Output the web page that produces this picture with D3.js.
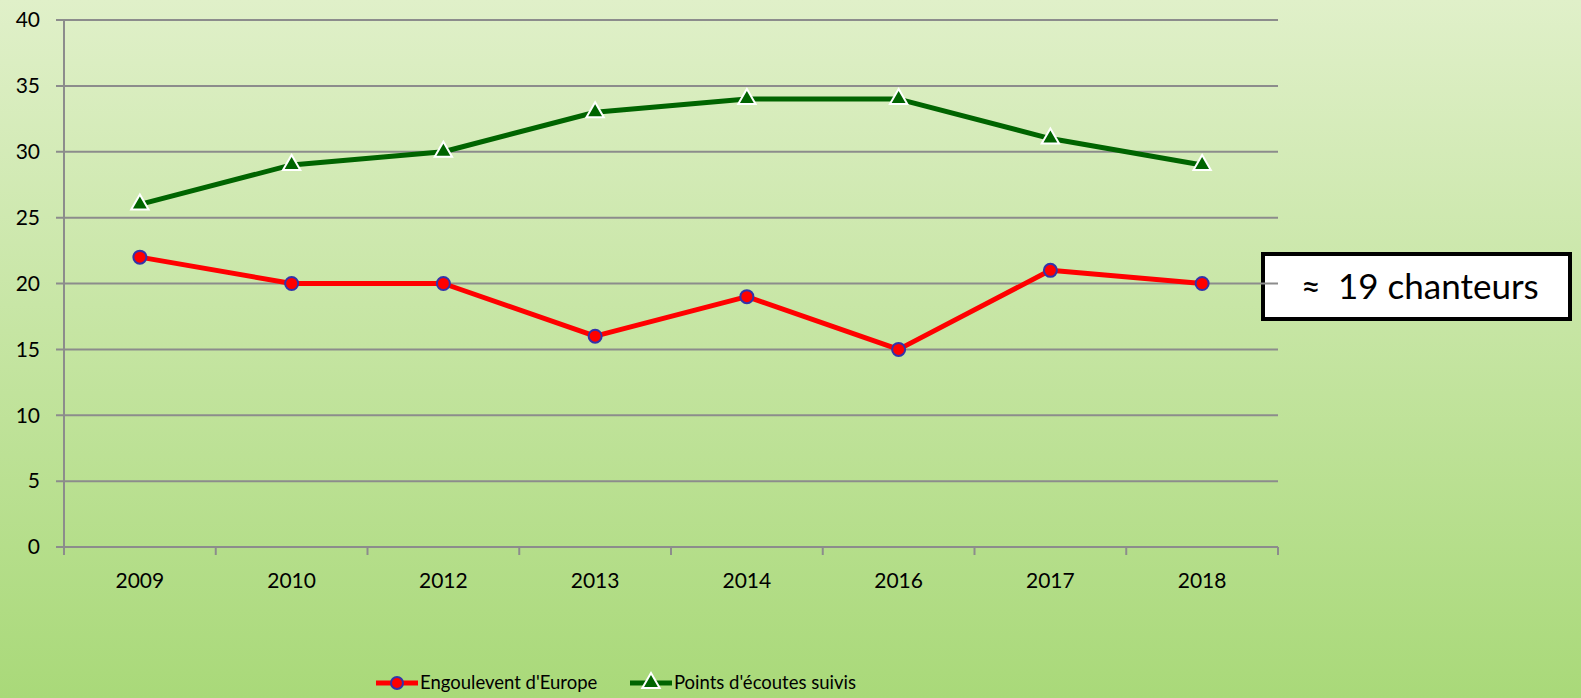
<!DOCTYPE html>
<html><head><meta charset="utf-8">
<script src="https://cdn.jsdelivr.net/npm/d3@7"></script>
<style>html,body{margin:0;padding:0;overflow:hidden;}svg{display:block;}</style>
</head><body>
<svg id="c" width="1581" height="698"></svg>
<script>
const categories = ["2009","2010","2012","2013","2014","2016","2017","2018"];
const engoulevent = [22,20,20,16,19,15,21,20];
const pointsEcoute = [26,29,30,33,34,34,31,29];
const yTicks = [0,5,10,15,20,25,30,35,40];
const seriesNames = ["Engoulevent d'Europe","Points d'écoutes suivis"];
const annotationSymbol = "≈";
const annotationText = "19 chanteurs";

const W=1581,H=698;
const font = "Lato, 'Noto Sans', sans-serif";
const svg = d3.select("#c");
const defs = svg.append("defs");
const g = defs.append("linearGradient").attr("id","bg").attr("x1",0).attr("y1",0).attr("x2",0).attr("y2",1);
g.append("stop").attr("offset","0%").attr("stop-color","#e0f0c9");
g.append("stop").attr("offset","100%").attr("stop-color","#a9d979");
svg.append("rect").attr("width",W).attr("height",H).attr("fill","url(#bg)");

const pL=64,pR=1278,pT=20,pB=547;
const x = d3.scaleBand().domain(categories).range([pL,pR]);
const y = d3.scaleLinear().domain([0,40]).range([pB,pT]);
const cx = d => x(d)+x.bandwidth()/2;

// annotation box (under gridline)
svg.append("rect").attr("x",1263).attr("y",254).attr("width",307).attr("height",65)
  .attr("fill","#fff").attr("stroke","#000").attr("stroke-width",4);

// gridlines
svg.append("g").selectAll("line").data(yTicks).join("line")
  .attr("x1",pL-8).attr("x2",pR).attr("y1",d=>y(d)).attr("y2",d=>y(d))
  .attr("stroke","#8c8c8c").attr("stroke-width",2);

// y axis line
svg.append("line").attr("x1",pL).attr("x2",pL).attr("y1",pT).attr("y2",pB+8)
  .attr("stroke","#8c8c8c").attr("stroke-width",2);
// x category ticks
const xb = categories.map(c=>x(c)).concat([pR]);
svg.append("g").selectAll("line").data(xb.slice(1)).join("line")
  .attr("x1",d=>d).attr("x2",d=>d).attr("y1",pB).attr("y2",pB+8)
  .attr("stroke","#8c8c8c").attr("stroke-width",2);

// y labels
svg.append("g").selectAll("text").data(yTicks).join("text")
  .attr("x",40).attr("y",d=>y(d)).attr("dy","0.35em").attr("text-anchor","end")
  .attr("font-family",font).attr("font-size",21).attr("fill","#000").text(d=>d);
// x labels
svg.append("g").selectAll("text").data(categories).join("text")
  .attr("x",d=>cx(d)).attr("y",588).attr("text-anchor","middle")
  .attr("font-family",font).attr("font-size",21).attr("fill","#000").text(d=>d);

const line = d3.line().x((d,i)=>cx(categories[i])).y(d=>y(d));
svg.append("path").datum(pointsEcoute).attr("d",line).attr("fill","none")
  .attr("stroke","#006400").attr("stroke-width",5).attr("stroke-linejoin","round");
svg.append("path").datum(engoulevent).attr("d",line).attr("fill","none")
  .attr("stroke","#ff0000").attr("stroke-width",5).attr("stroke-linejoin","round");

const tri = d3.symbol().type(d3.symbolTriangle).size(130);
svg.append("g").selectAll("path").data(pointsEcoute).join("path")
  .attr("d",tri).attr("transform",(d,i)=>`translate(${cx(categories[i])},${y(d)})`)
  .attr("fill","#006400").attr("stroke","#fff").attr("stroke-width",2);
svg.append("g").selectAll("circle").data(engoulevent).join("circle")
  .attr("cx",(d,i)=>cx(categories[i])).attr("cy",d=>y(d)).attr("r",6.5)
  .attr("fill","#ff0000").attr("stroke","#3333aa").attr("stroke-width",2);

// annotation text
svg.append("text").attr("x",1301).attr("y",299)
  .attr("font-family",font).attr("font-size",34).attr("fill","#000").text(annotationSymbol);
svg.append("text").attr("x",1338).attr("y",299)
  .attr("font-family",font).attr("font-size",35).attr("fill","#000").text(annotationText);

// legend
const ly=683;
svg.append("line").attr("x1",376).attr("x2",418).attr("y1",ly).attr("y2",ly).attr("stroke","#ff0000").attr("stroke-width",5);
svg.append("circle").attr("cx",397).attr("cy",ly).attr("r",6).attr("fill","#ff0000").attr("stroke","#3333aa").attr("stroke-width",2);
svg.append("text").attr("x",420).attr("y",ly).attr("dy","0.35em").attr("font-family",font).attr("font-size",18.5).text(seriesNames[0]);
svg.append("line").attr("x1",630).attr("x2",672).attr("y1",ly).attr("y2",ly).attr("stroke","#006400").attr("stroke-width",5);
svg.append("path").attr("d",tri).attr("transform",`translate(651,${ly})`).attr("fill","#006400").attr("stroke","#fff").attr("stroke-width",2);
svg.append("text").attr("x",674).attr("y",ly).attr("dy","0.35em").attr("font-family",font).attr("font-size",18.5).text(seriesNames[1]);
</script>
</body></html>
